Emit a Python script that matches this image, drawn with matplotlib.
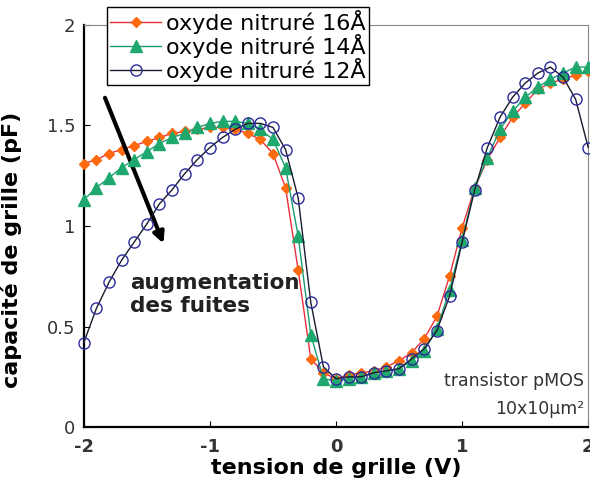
import numpy as np
import matplotlib
matplotlib.use('Agg')
import matplotlib.pyplot as plt

plt.rcParams['font.family'] = ['DejaVu Sans']

# tension de grille (V), pas de 0.1 V
vg = np.round(np.arange(-2.0, 2.01, 0.1), 1)

# capacité de grille (pF)
c16 = [1.31, 1.33, 1.36, 1.38, 1.40, 1.42, 1.44, 1.46, 1.47, 1.48,
       1.49, 1.49, 1.48, 1.46, 1.43, 1.36, 1.19, 0.78, 0.34, 0.27,
       0.24, 0.26, 0.27, 0.28, 0.30, 0.33, 0.37, 0.44, 0.55, 0.75,
       0.99, 1.19, 1.33, 1.44, 1.54, 1.61, 1.68, 1.71, 1.73, 1.75, 1.77]
c14 = [1.13, 1.19, 1.24, 1.29, 1.33, 1.37, 1.41, 1.44, 1.46, 1.49,
       1.51, 1.52, 1.52, 1.51, 1.48, 1.43, 1.29, 0.95, 0.46, 0.24,
       0.23, 0.24, 0.25, 0.27, 0.28, 0.29, 0.33, 0.38, 0.49, 0.68,
       0.93, 1.19, 1.34, 1.48, 1.57, 1.64, 1.69, 1.73, 1.76, 1.79, 1.79]
c12 = [0.42, 0.59, 0.72, 0.83, 0.92, 1.01, 1.11, 1.18, 1.26, 1.33,
       1.39, 1.44, 1.48, 1.51, 1.51, 1.49, 1.38, 1.14, 0.62, 0.30,
       0.24, 0.25, 0.25, 0.27, 0.28, 0.29, 0.34, 0.39, 0.48, 0.65,
       0.92, 1.18, 1.39, 1.54, 1.64, 1.71, 1.76, 1.79, 1.74, 1.63, 1.39]

fig = plt.figure(figsize=(5.9, 4.87), dpi=100)
ax = fig.add_axes([0.142, 0.123, 0.855, 0.826])

ax.plot(vg, c16, color='#e8303a', lw=1.0, marker='D', ms=5.5,
        mfc='#ff6a10', mec='#ff6a10', label='oxyde nitruré 16Å', clip_on=False, zorder=3)
ax.plot(vg, c14, color='#1a9c72', lw=1.0, marker='^', ms=8,
        mfc='#1fa86e', mec='#1fa86e', label='oxyde nitruré 14Å', clip_on=False, zorder=4)
ax.plot(vg, c12, color='#1a1a2e', lw=1.0, marker='o', ms=8,
        mfc='none', mec='#2a2a9a', mew=1.0, label='oxyde nitruré 12Å', clip_on=False, zorder=5)

ax.set_xlim(-2, 2)
ax.set_ylim(0, 2)
ax.set_xticks([-2, -1, 0, 1, 2])
ax.set_xticklabels(['-2', '-1', '0', '1', '2'], fontweight='bold', color='#333333')
ax.set_yticks([0, 0.5, 1, 1.5, 2])
ax.set_yticklabels(['0', '0.5', '1', '1.5', '2'], color='#333333')
ax.tick_params(direction='in', length=4, labelsize=13)
ax.tick_params(axis='x', pad=8)
ax.tick_params(axis='y', pad=6)

ax.spines['left'].set_linewidth(1.6)
ax.spines['bottom'].set_linewidth(1.6)
ax.spines['top'].set_color('#888888')
ax.spines['right'].set_color('#888888')

ax.set_xlabel('tension de grille (V)', fontsize=16, fontweight='bold', labelpad=1)
ax.set_ylabel('capacité de grille (pF)', fontsize=16, fontweight='bold')
ax.yaxis.set_label_coords(-0.123, 0.44)

ax.annotate('', xy=(-1.36, 0.9), xytext=(-1.84, 1.65),
            arrowprops=dict(arrowstyle='-|>', color='black', lw=3, mutation_scale=16))
ax.text(-1.63, 0.66, 'augmentation\ndes fuites', fontsize=15.5, fontweight='bold',
        color='#222222', ha='left', va='center', linespacing=1.15)

ax.text(1.97, 0.23, 'transistor pMOS', fontsize=12.5, ha='right', va='center', color='#333333')
ax.text(1.97, 0.09, '10x10µm²', fontsize=12.5, ha='right', va='center', color='#333333')

leg = ax.legend(loc='upper left', bbox_to_anchor=(0.046, 1.045), borderaxespad=0,
                fontsize=16, handlelength=2.3, labelspacing=0.0, handletextpad=0.2,
                borderpad=0.15, fancybox=False, framealpha=1, edgecolor='black')
leg.get_frame().set_linewidth(1.0)

fig.savefig('out.png', dpi=100)
